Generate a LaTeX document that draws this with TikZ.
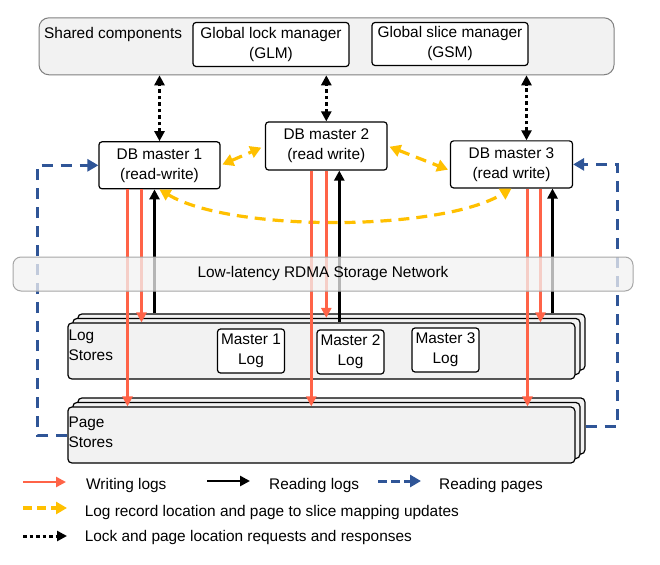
\documentclass[tikz,border=0pt]{standalone}
\usepackage{fontspec}
\setmainfont{Liberation Sans}
\usetikzlibrary{arrows.meta}
\definecolor{writered}{RGB}{255,99,71}
\definecolor{mapyellow}{RGB}{255,192,0}
\definecolor{pageblue}{RGB}{47,85,151}
\definecolor{storegray}{RGB}{242,242,242}
\tikzset{
  tri/.tip={Triangle[length=10pt,width=10pt]},
  bigtri/.tip={Triangle[length=11pt,width=12pt]},
  box/.style={draw, line width=1.2pt, rounded corners=3pt, fill=white, align=center, inner sep=0pt},
  store/.style={draw, line width=1.2pt, rounded corners=4pt, fill=storegray, minimum width=507pt, minimum height=56pt, inner sep=0pt},
  writelog/.style={writered, line width=2.8pt, -tri},
  readlog/.style={black, line width=2.6pt, -tri},
  readpage/.style={pageblue, line width=3pt, dash pattern=on 11pt off 8pt, -bigtri},
  mapupdate/.style={mapyellow, line width=3.2pt, dash pattern=on 11pt off 7pt},
  lockreq/.style={black, line width=3pt, dash pattern=on 3.5pt off 3pt},
}
\begin{document}
\begin{tikzpicture}[x=1pt,y=-1pt,font=\fontsize{15.4}{20}\selectfont]
\useasboundingbox (0,0) rectangle (660,564);
\node[draw=gray, fill=storegray, rounded corners=10pt, line width=1pt, minimum width=575pt, minimum height=57pt] (shared) at (326.5,46.3) {};
\node[anchor=west, inner sep=0pt] (sharedlbl) at (44,35) {Shared components};
\node[box, minimum width=156pt, minimum height=44pt] (glm) at (271,44.5) {Global lock manager\\(GLM)};
\node[box, minimum width=156pt, minimum height=43pt] (gsm) at (450,44) {Global slice manager\\(GSM)};
\node[box, minimum width=121pt, minimum height=47pt] (db1) at (159.5,165.3) {DB master 1\\(read-write)};
\node[box, minimum width=121.5pt, minimum height=48pt] (db2) at (326.3,146) {DB master 2\\(read write)};
\node[box, minimum width=122pt, minimum height=47pt] (db3) at (511.5,164.4) {DB master 3\\(read write)};
\node[store] (ls3) at (331.4,342) {};
\node[store] (ls2) at (326.4,346.5) {};
\node[store] (ls1) at (321.4,351) {};
\node[anchor=north west, align=left, inner sep=1pt] (lslbl) at ([yshift=-6pt]ls1.north west) {Log\\Stores};
\node[box, minimum width=67pt, minimum height=44pt] (m1log) at (251,351) {Master 1\\Log};
\node[box, minimum width=67pt, minimum height=44pt] (m2log) at (350.5,352) {Master 2\\Log};
\node[box, minimum width=67pt, minimum height=44pt] (m3log) at (445.5,350) {Master 3\\Log};
\node[store] (ps3) at (331.4,426) {};
\node[store] (ps2) at (326.4,430.5) {};
\node[store] (ps1) at (321.4,435) {};
\node[anchor=north west, align=left, inner sep=1pt] (pslbl) at ([yshift=-9pt]ps1.north west) {Page\\Stores};
\draw[lockreq, tri-tri] (db1.north) -- (db1.north |- shared.south);
\draw[lockreq, tri-tri] (db2.north) -- (db2.north |- shared.south);
\coordinate (q3) at ([xshift=15pt]db3.north);
\draw[lockreq, tri-tri] (q3) -- (q3 |- shared.south);
\draw[mapupdate, bigtri-bigtri, shorten <=2pt, shorten >=4pt] (db1.east) -- (db2.west);
\draw[mapupdate, bigtri-bigtri, shorten <=2pt, shorten >=2pt] (db2.east) -- ([yshift=-6pt]db3.west);
\draw[mapupdate, bigtri-bigtri] (db1.south) .. controls (230,232) and (440,232) .. (db3.south);
\coordinate (w1) at ([xshift=-32pt]db1.south);
\coordinate (l1) at ([xshift=-18pt]db1.south);
\coordinate (r1) at ([xshift=-5pt]db1.south);
\draw[writelog] (w1) -- (w1 |- ps1.north);
\draw[writelog] (l1) -- (l1 |- ls1.north);
\draw[readlog] (r1 |- ls3.north) -- (r1);
\coordinate (w2) at ([xshift=-15pt]db2.south);
\coordinate (l2) at (db2.south);
\coordinate (r2) at ([xshift=13pt]db2.south);
\draw[writelog] (w2) -- (w2 |- ps1.north);
\draw[writelog] (l2) -- (l2 |- ls2.north);
\draw[readlog] (r2 |- ls1.north) -- (r2);
\coordinate (w3) at ([xshift=16pt]db3.south);
\coordinate (l3) at ([xshift=29pt]db3.south);
\coordinate (r3) at ([xshift=41pt]db3.south);
\draw[writelog] (w3) -- (w3 |- ps1.north);
\draw[writelog] (l3) -- (l3 |- ls1.north);
\draw[readlog] (r3 |- ls3.north) -- (r3);
\draw[readpage] (ps1.west) -- ++(-30,0) |- (db1.west);
\draw[readpage] (ps3.east) -- ++(32,0) |- (db3.east);
\node[draw=gray!70, fill=storegray, fill opacity=0.75, text opacity=1, rounded corners=8pt, line width=1pt, minimum width=620pt, minimum height=34pt] (net) at (323,274) {Low-latency RDMA Storage Network};
\coordinate (wl1) at (23,482);
\coordinate (wl2) at (66,482);
\draw[writelog] (wl1) -- (wl2);
\node[anchor=west, inner sep=0pt] (wltxt) at (86,486) {Writing logs};
\coordinate (rl1) at (207,481);
\coordinate (rl2) at (250,481);
\draw[readlog] (rl1) -- (rl2);
\node[anchor=west, inner sep=0pt] (rltxt) at (269,486) {Reading logs};
\coordinate (rp1) at (378,481);
\coordinate (rp2) at (421,481);
\draw[readpage, dash pattern=on 9pt off 4pt] (rp1) -- (rp2);
\node[anchor=west, inner sep=0pt] (rptxt) at (439,486) {Reading pages};
\coordinate (mu1) at (23,508);
\coordinate (mu2) at (67,508);
\draw[mapupdate, dash pattern=on 9pt off 5pt, -bigtri] (mu1) -- (mu2);
\node[anchor=west, inner sep=0pt] (mutxt) at (84.6,512.5) {Log record location and page to slice mapping updates};
\coordinate (lr1) at (23,536);
\coordinate (lr2) at (67,536);
\draw[lockreq, -tri] (lr1) -- (lr2);
\node[anchor=west, inner sep=0pt] (lrtxt) at (84.6,538) {Lock and page location requests and responses};
\end{tikzpicture}
\end{document}
